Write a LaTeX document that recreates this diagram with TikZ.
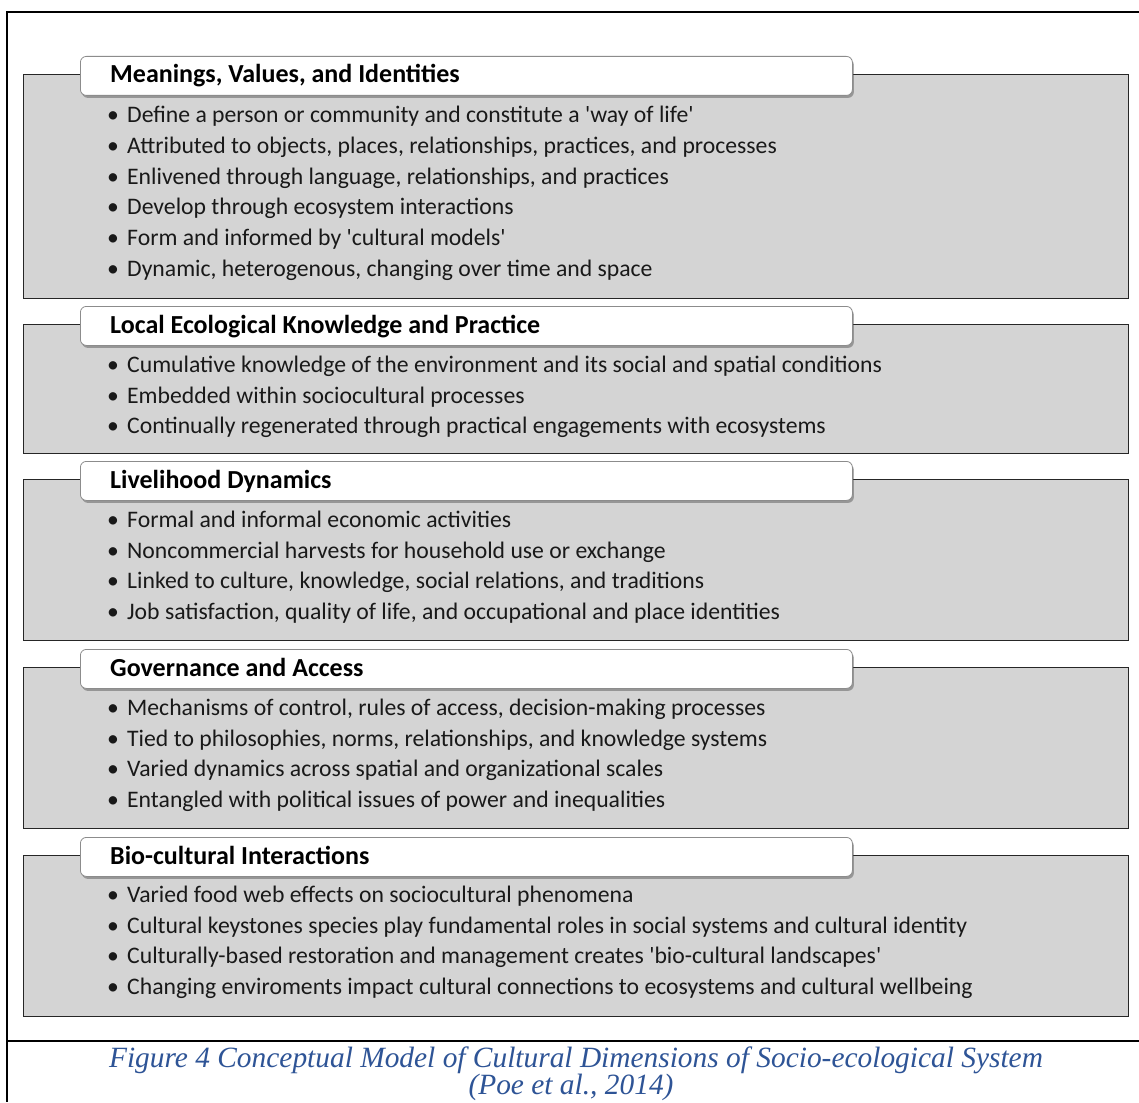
\documentclass[tikz,border=0pt]{standalone}
\usepackage{fontspec}
\setmainfont{Carlito}
\newfontfamily\capfont{Liberation Serif}
\usetikzlibrary{shadows}

\definecolor{panelgray}{RGB}{212,212,212}
\definecolor{capblue}{RGB}{46,84,150}
\definecolor{inkgray}{RGB}{25,25,25}

\tikzset{
  panel/.style={draw=black!85, line width=1.4pt, fill=panelgray, rectangle,
    inner sep=0pt, anchor=north west},
  tabbox/.style={draw=black!45, line width=0.8pt, fill=white, rounded corners=6pt,
    inner sep=0pt, anchor=north west, minimum width=772pt, minimum height=39pt,
    drop shadow={shadow xshift=1.5pt, shadow yshift=-2.5pt, opacity=0.45, fill=black!70}},
  item/.style={anchor=base west, inner sep=0pt, text=inkgray,
    font=\fontsize{23.7}{28}\selectfont},
  ttl/.style={item, font=\fontsize{26}{30}\selectfont\bfseries, text=black},
  caption/.style={inner sep=0pt, anchor=base, text=capblue,
    font=\capfont\itshape\fontsize{29.4}{34}\selectfont},
  frame/.style={line width=2pt, black}
}

% one bullet line: name, baseline, text
\newcommand\bul[3]{\node[item] (#1) at (107,#2) {\makebox[20pt][l]{\textbullet}#3};}
\newcommand\q{\textquotesingle}

\begin{document}
\begin{tikzpicture}[x=1pt,y=-1pt]
\useasboundingbox (0,0) rectangle (1139,1102);
\fill[white] (0,0) rectangle (1139,1102);

% outer frame
\coordinate (ftl) at (7,12.5);
\coordinate (ftr) at (1139,12.5);
\coordinate (fbl) at (7,1102);
\coordinate (cl) at (7,1041);
\coordinate (cr) at (1139,1041);
\draw[frame] (ftr) -- (ftl) -- (fbl);
\draw[frame] (cl) -- (cr);

% ---- panel 1
\node[panel, minimum width=1105pt, minimum height=224pt] (p1) at (23,74) {};
\node[tabbox] (t1) at (80,56) {};
\node[ttl] (h1) at (110,83) {Meanings, Values, and Identities};
\bul{a1}{123}{Define a person or community and constitute a \q way of life\q}
\bul{a2}{153.6}{Attributed to objects, places, relationships, practices, and processes}
\bul{a3}{184.2}{Enlivened through language, relationships, and practices}
\bul{a4}{214.8}{Develop through ecosystem interactions}
\bul{a5}{245.4}{Form and informed by \q cultural models\q}
\bul{a6}{276}{Dynamic, heterogenous, changing over time and space}

% ---- panel 2
\node[panel, minimum width=1105pt, minimum height=129pt] (p2) at (23,324) {};
\node[tabbox] (t2) at (80,306) {};
\node[ttl] (h2) at (110,333.5) {Local Ecological Knowledge and Practice};
\bul{b1}{372.5}{Cumulative knowledge of the environment and its social and spatial conditions}
\bul{b2}{403}{Embedded within sociocultural processes}
\bul{b3}{433.5}{Continually regenerated through practical engagements with ecosystems}

% ---- panel 3
\node[panel, minimum width=1105pt, minimum height=161pt] (p3) at (23,479) {};
\node[tabbox] (t3) at (80,461) {};
\node[ttl] (h3) at (110,488) {Livelihood Dynamics};
\bul{c1}{527.5}{Formal and informal economic activities}
\bul{c2}{558.2}{Noncommercial harvests for household use or exchange}
\bul{c3}{588.8}{Linked to culture, knowledge, social relations, and traditions}
\bul{c4}{619.4}{Job satisfaction, quality of life, and occupational and place identities}

% ---- panel 4
\node[panel, minimum width=1105pt, minimum height=161pt] (p4) at (23,667) {};
\node[tabbox] (t4) at (80,649) {};
\node[ttl] (h4) at (110,676) {Governance and Access};
\bul{d1}{715.5}{Mechanisms of control, rules of access, decision-making processes}
\bul{d2}{746.2}{Tied to philosophies, norms, relationships, and knowledge systems}
\bul{d3}{776.8}{Varied dynamics across spatial and organizational scales}
\bul{d4}{807.4}{Entangled with political issues of power and inequalities}

% ---- panel 5
\node[panel, minimum width=1105pt, minimum height=161pt] (p5) at (23,855) {};
\node[tabbox] (t5) at (80,837) {};
\node[ttl] (h5) at (110,864) {Bio-cultural Interactions};
\bul{e1}{902.5}{Varied food web effects on sociocultural phenomena}
\bul{e2}{933.2}{Cultural keystones species play fundamental roles in social systems and cultural identity}
\bul{e3}{963.8}{Culturally-based restoration and management creates \q bio-cultural landscapes\q}
\bul{e4}{994.4}{Changing enviroments impact cultural connections to ecosystems and cultural wellbeing}

% caption
\node[caption] (cap1) at (576,1067) {Figure 4 Conceptual Model of Cultural Dimensions of Socio-ecological System};
\node[caption] (cap2) at (571,1094.5) {(Poe et al., 2014)};
\end{tikzpicture}
\end{document}
